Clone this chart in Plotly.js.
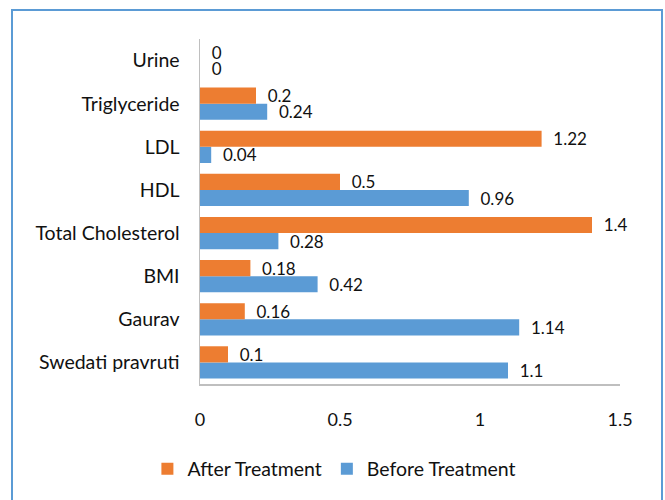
<!DOCTYPE html>
<html>
<head>
<meta charset="utf-8">
<script src="https://cdn.plot.ly/plotly-3.0.1.min.js"></script>
<style>
html,body{margin:0;padding:0;background:#fff;}
#wrap{position:relative;width:665px;height:500px;}
#chart{width:665px;height:500px;}
#frame{position:absolute;left:11px;top:9px;width:652px;height:500px;border:2px solid #5B9BD5;pointer-events:none;box-sizing:border-box;}
</style>
</head>
<body>
<div id="wrap"><div id="chart"></div><div id="frame"></div></div>
<script>
const categories = ["Swedati pravruti","Gaurav","BMI","Total Cholesterol","HDL","LDL","Triglyceride","Urine"];
const beforeTreatment = [1.1, 1.14, 0.42, 0.28, 0.96, 0.04, 0.24, 0];
const afterTreatment = [0.1, 0.16, 0.18, 1.4, 0.5, 1.22, 0.2, 0];
const xTicks = [0, 0.5, 1, 1.5];
const xTickText = ["0", "0.5", "1", "1.5"];

const fam = "Lato, 'Noto Sans', sans-serif";
const textFont = {family: fam, size: 19.5, color: "#111"};
const numFont = {family: fam, size: 18, color: "#111"};
const labelFont = {family: fam, size: 17, color: "#111"};
const pad = "\u00A0\u00A0";

const traces = [
  {
    type: "bar", orientation: "h", name: "Before Treatment",
    y: categories, x: beforeTreatment,
    marker: {color: "#5B9BD5"},
    text: beforeTreatment.map(v => pad + v), textposition: "outside",
    constraintext: "none",
    textfont: labelFont, cliponaxis: false
  },
  {
    type: "bar", orientation: "h", name: "After Treatment",
    y: categories, x: afterTreatment,
    marker: {color: "#ED7D31"},
    text: afterTreatment.map(v => pad + v), textposition: "outside",
    constraintext: "none",
    textfont: labelFont, cliponaxis: false
  }
];

const layout = {
  width: 665, height: 500,
  margin: {l: 200, r: 45, t: 39, b: 109},
  paper_bgcolor: "#fff", plot_bgcolor: "#fff",
  font: textFont,
  barmode: "group", bargap: 0.25, bargroupgap: 0,
  showlegend: true,
  legend: {orientation: "h", x: 0.32, xanchor: "center", y: -0.19, yanchor: "top",
           traceorder: "reversed", font: textFont},
  xaxis: {
    range: [0, 1.5], tickvals: xTicks, ticktext: xTickText,
    showgrid: false, zeroline: false, showline: true, linecolor: "#bfbfbf", linewidth: 1.5,
    ticks: "", ticklabelstandoff: 19, tickfont: numFont, fixedrange: true
  },
  yaxis: {
    type: "category", categoryorder: "array", categoryarray: categories,
    showgrid: false, zeroline: false, showline: true, linecolor: "#bfbfbf", linewidth: 1.5,
    ticks: "", ticklabelstandoff: 15, tickfont: textFont, fixedrange: true
  }
};

Plotly.newPlot("chart", traces, layout, {displayModeBar: false, staticPlot: true});
</script>
</body>
</html>
